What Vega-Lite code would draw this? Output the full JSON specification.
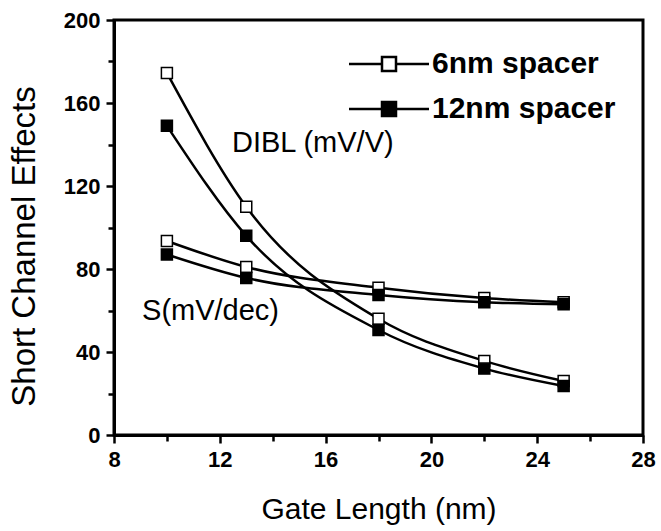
{
  "$schema": "https://vega.github.io/schema/vega-lite/v6.json",
  "width": 529,
  "height": 415,
  "autosize": "none",
  "padding": {"left": 114, "top": 20, "right": 18, "bottom": 96},
  "background": "white",
  "config": {
    "view": {"stroke": "black", "strokeWidth": 3},
    "font": "Liberation Sans"
  },
  "resolve": {"axis": {"x": "independent", "y": "independent"}},
  "data": {
    "values": [
      {"series": "DIBL", "spacer": "6nm spacer", "L": 10, "v": 174.5},
      {"series": "DIBL", "spacer": "6nm spacer", "L": 13, "v": 110},
      {"series": "DIBL", "spacer": "6nm spacer", "L": 18, "v": 56},
      {"series": "DIBL", "spacer": "6nm spacer", "L": 22, "v": 35.7},
      {"series": "DIBL", "spacer": "6nm spacer", "L": 25, "v": 26},
      {"series": "DIBL", "spacer": "12nm spacer", "L": 10, "v": 149},
      {"series": "DIBL", "spacer": "12nm spacer", "L": 13, "v": 96},
      {"series": "DIBL", "spacer": "12nm spacer", "L": 18, "v": 50.6},
      {"series": "DIBL", "spacer": "12nm spacer", "L": 22, "v": 32},
      {"series": "DIBL", "spacer": "12nm spacer", "L": 25, "v": 23.6},
      {"series": "S", "spacer": "6nm spacer", "L": 10, "v": 93.5},
      {"series": "S", "spacer": "6nm spacer", "L": 13, "v": 81},
      {"series": "S", "spacer": "6nm spacer", "L": 18, "v": 71},
      {"series": "S", "spacer": "6nm spacer", "L": 22, "v": 66},
      {"series": "S", "spacer": "6nm spacer", "L": 25, "v": 64},
      {"series": "S", "spacer": "12nm spacer", "L": 10, "v": 87},
      {"series": "S", "spacer": "12nm spacer", "L": 13, "v": 75.7},
      {"series": "S", "spacer": "12nm spacer", "L": 18, "v": 67.5},
      {"series": "S", "spacer": "12nm spacer", "L": 22, "v": 64},
      {"series": "S", "spacer": "12nm spacer", "L": 25, "v": 63}
    ]
  },
  "layer": [
    {
      "mark": {"type": "line", "interpolate": "monotone", "color": "black", "strokeWidth": 2.5},
      "encoding": {
        "x": {
          "field": "L", "type": "quantitative",
          "scale": {"domain": [8, 28], "nice": false},
          "axis": {
            "orient": "bottom",
            "values": [8, 12, 16, 20, 24, 28],
            "grid": false,
            "domainColor": "black", "domainWidth": 3,
            "tickColor": "black", "tickWidth": 2.5, "tickSize": 8,
            "labelFont": "Liberation Sans", "labelFontWeight": "bold", "labelFontSize": 22, "labelColor": "black",
            "labelPadding": 6,
            "labelFlush": false,
            "title": "Gate Length (nm)",
            "titleFont": "Liberation Sans", "titleFontWeight": "normal", "titleColor": "black",
            "titleFontSize": 30,
            "titleBaseline": "alphabetic",
            "titleY": 83
          }
        },
        "y": {
          "field": "v", "type": "quantitative",
          "scale": {"domain": [0, 200], "nice": false},
          "axis": {
            "orient": "left",
            "values": [0, 40, 80, 120, 160, 200],
            "grid": false,
            "domainColor": "black", "domainWidth": 3,
            "tickColor": "black", "tickWidth": 2.5, "tickSize": 8,
            "labelFont": "Liberation Sans", "labelFontWeight": "bold", "labelFontSize": 22, "labelColor": "black",
            "labelPadding": 6,
            "labelFlush": false,
            "title": "Short Channel Effects",
            "titleFont": "Liberation Sans", "titleFontWeight": "normal", "titleColor": "black",
            "titleFontSize": 33,
            "titleAngle": -90,
            "titleBaseline": "middle",
            "titleAlign": "center",
            "titleX": -90,
            "titleY": 226
          }
        },
        "detail": [{"field": "series"}, {"field": "spacer"}]
      }
    },
    {
      "mark": {"type": "point", "shape": "square", "filled": true, "size": 121, "stroke": "black", "strokeWidth": 1.5, "opacity": 1},
      "encoding": {
        "x": {
          "field": "L", "type": "quantitative",
          "axis": {
            "orient": "bottom",
            "values": [10, 14, 18, 22, 26],
            "grid": false, "domain": false, "labels": false, "title": null,
            "tickColor": "black", "tickWidth": 2.5, "tickSize": 6
          }
        },
        "y": {
          "field": "v", "type": "quantitative",
          "axis": {
            "orient": "left",
            "values": [20, 60, 100, 140, 180],
            "grid": false, "domain": false, "labels": false, "title": null,
            "tickColor": "black", "tickWidth": 2.5, "tickSize": 6
          }
        },
        "fill": {
          "field": "spacer", "type": "nominal",
          "scale": {"domain": ["6nm spacer", "12nm spacer"], "range": ["white", "black"]},
          "legend": {
            "title": null,
            "orient": "none",
            "legendX": 260,
            "legendY": 29,
            "padding": 0,
            "symbolType": "M-4,0H-0.7M0.7,0H4M-0.7,-0.7H0.7V0.7H-0.7Z",
            "symbolSize": 400,
            "symbolStrokeColor": "black",
            "symbolStrokeWidth": 2.5,
            "symbolOpacity": 1,
            "rowPadding": 15,
            "labelFont": "Liberation Sans",
            "labelFontWeight": "bold",
            "labelFontSize": 30,
            "labelColor": "black",
            "labelOffset": 28,
            "labelLimit": 400
          }
        }
      }
    },
    {
      "data": {"values": [
        {"label": "DIBL (mV/V)", "L": 12.46, "v": 136.4},
        {"label": "S(mV/dec)", "L": 9.06, "v": 55.4}
      ]},
      "mark": {"type": "text", "align": "left", "baseline": "alphabetic", "fontSize": 29, "font": "Liberation Sans", "color": "black"},
      "encoding": {
        "x": {"field": "L", "type": "quantitative", "axis": null},
        "y": {"field": "v", "type": "quantitative", "axis": null},
        "text": {"field": "label"}
      }
    }
  ]
}
